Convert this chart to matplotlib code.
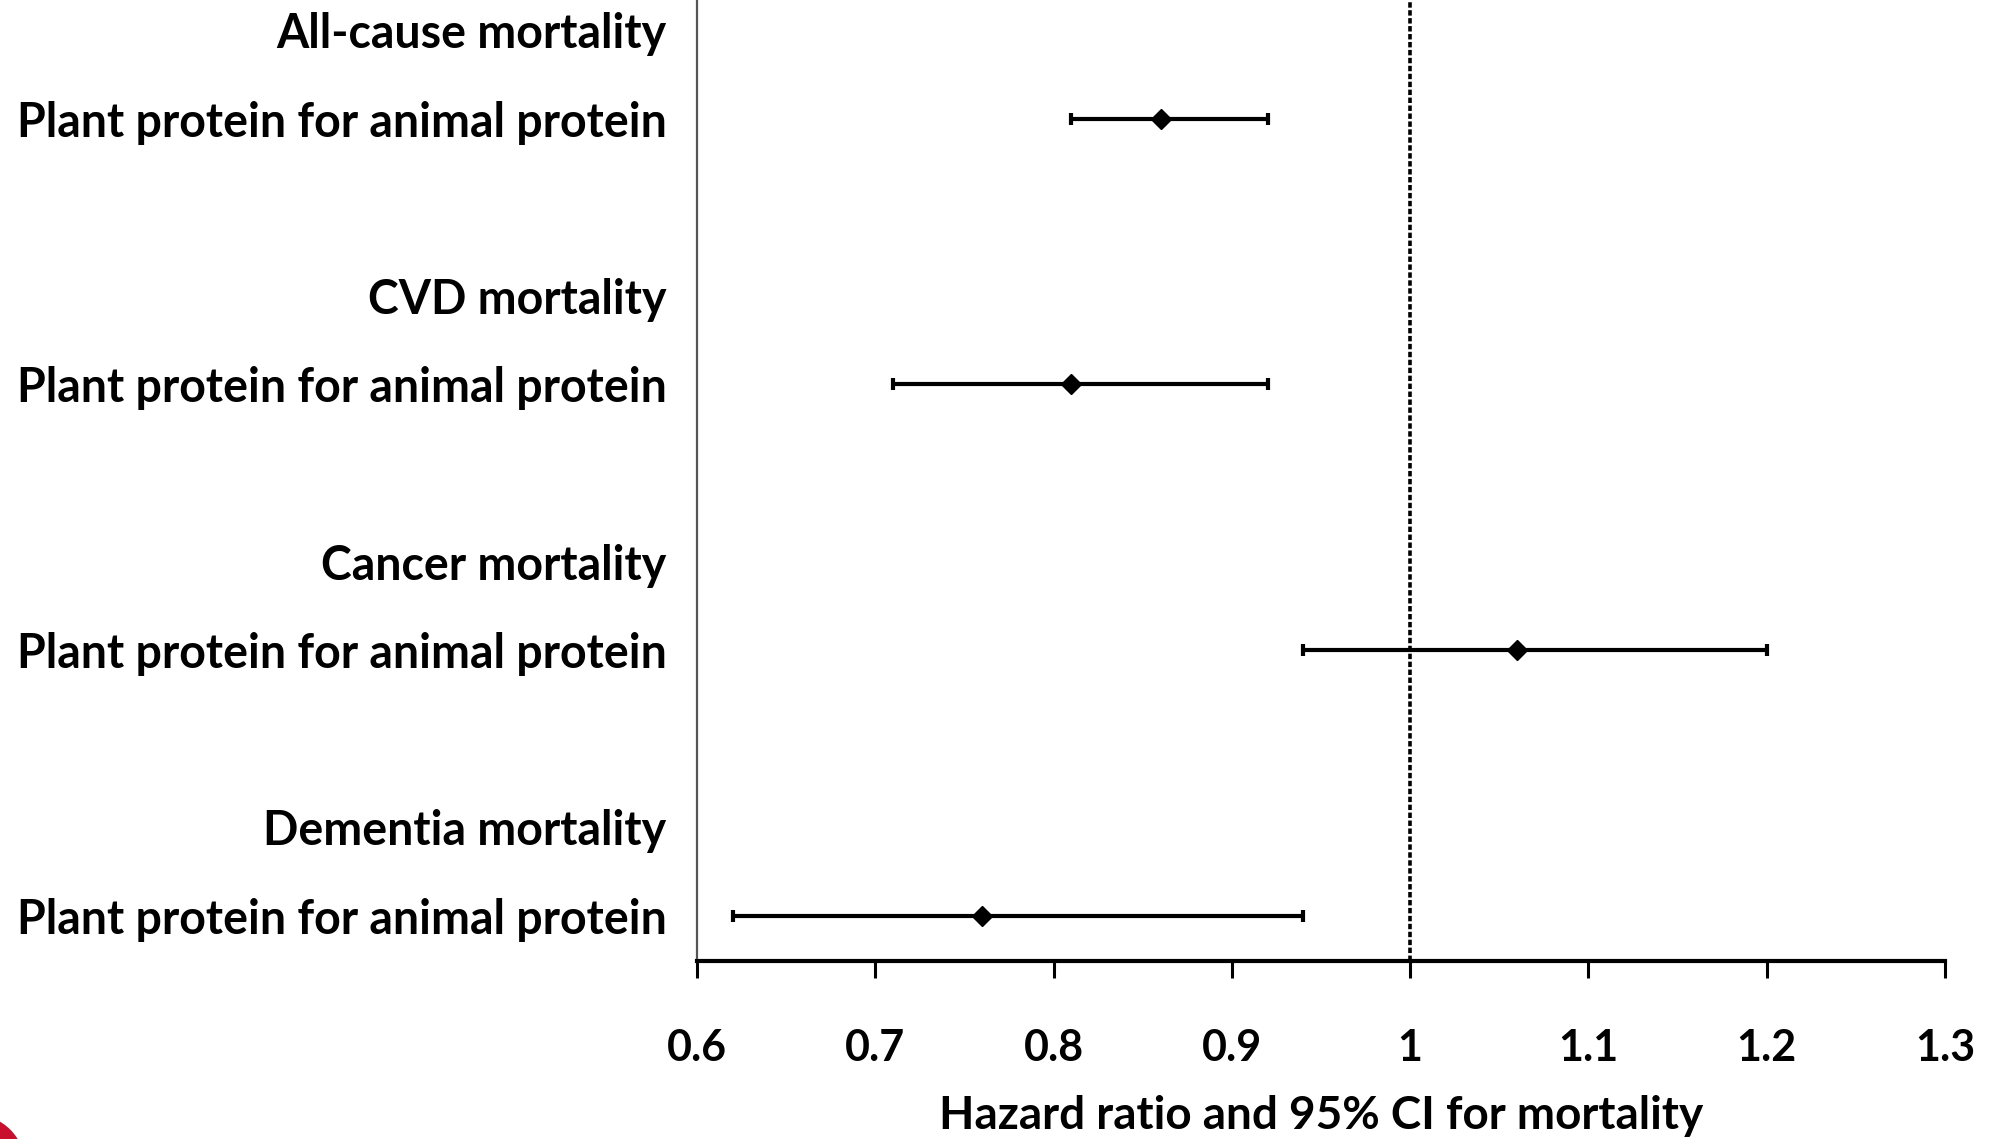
import matplotlib
matplotlib.use("Agg")
import matplotlib.pyplot as plt
from matplotlib.patches import Circle
from matplotlib.transforms import IdentityTransform

# Outcomes (top to bottom), hazard ratios and 95% CI bounds
outcomes = ["All-cause mortality", "CVD mortality", "Cancer mortality", "Dementia mortality"]
substitution = "Plant protein for animal protein"
hr = [0.86, 0.81, 1.06, 0.76]
ci_low = [0.81, 0.71, 0.94, 0.62]
ci_high = [0.92, 0.92, 1.20, 0.94]
x_ticks = [0.6, 0.7, 0.8, 0.9, 1.0, 1.1, 1.2, 1.3]
x_tick_labels = ["0.6", "0.7", "0.8", "0.9", "1", "1.1", "1.2", "1.3"]

FONT = "Lato"
plt.rcParams["font.family"] = [FONT, "DejaVu Sans"]

W, H, DPI = 1992, 1139, 100
fig = plt.figure(figsize=(W / DPI, H / DPI), dpi=DPI)
ax = fig.add_axes([697 / W, 1 - 961 / H, (1945 - 697) / W, 961 / H])

# vertical layout: each outcome header sits one unit above its data row,
# groups are three units apart
n = len(outcomes)
data_y = [1 + 3 * (n - 1 - i) for i in range(n)]
head_y = [y + 1 for y in data_y]

xerr = [[h - lo for h, lo in zip(hr, ci_low)], [hi - h for h, hi in zip(hr, ci_high)]]
ax.errorbar(hr, data_y, xerr=xerr, fmt="D", color="black", ecolor="black",
            markersize=10, elinewidth=3.0, capsize=4.5, capthick=3.0, zorder=3)

ax.axvline(1.0, color="black", linestyle=(0, (1.5, 0.7)), linewidth=2.6, zorder=2)

ax.set_xlim(0.6, 1.3)
ax.set_ylim(0.49, 11.34)

yt = []
yl = []
for i in range(n):
    yt += [head_y[i], data_y[i]]
    yl += [outcomes[i], substitution]
ax.set_yticks(yt)
ax.set_yticklabels(yl, fontsize=33.5, fontweight="bold")
ax.tick_params(axis="y", length=0, pad=22)

ax.set_xticks(x_ticks)
ax.set_xticklabels(x_tick_labels, fontsize=31, fontweight="bold")
ax.tick_params(axis="x", direction="out", length=12, width=2.2, pad=36, color="black")
ax.set_xlabel("Hazard ratio and 95% CI for mortality", fontsize=33, fontweight="bold", labelpad=20)

for side in ("top", "right"):
    ax.spines[side].set_visible(False)
ax.spines["left"].set_color("#555555")
ax.spines["left"].set_linewidth(1.6)
ax.spines["bottom"].set_color("black")
ax.spines["bottom"].set_linewidth(3.0)

# red corner badge (pixel coordinates, origin at bottom-left)
fig.patches.append(Circle((-25, H - 1165), 50, transform=IdentityTransform(),
                          facecolor="#c8102e", edgecolor="none"))

fig.savefig("out.png", dpi=DPI)
